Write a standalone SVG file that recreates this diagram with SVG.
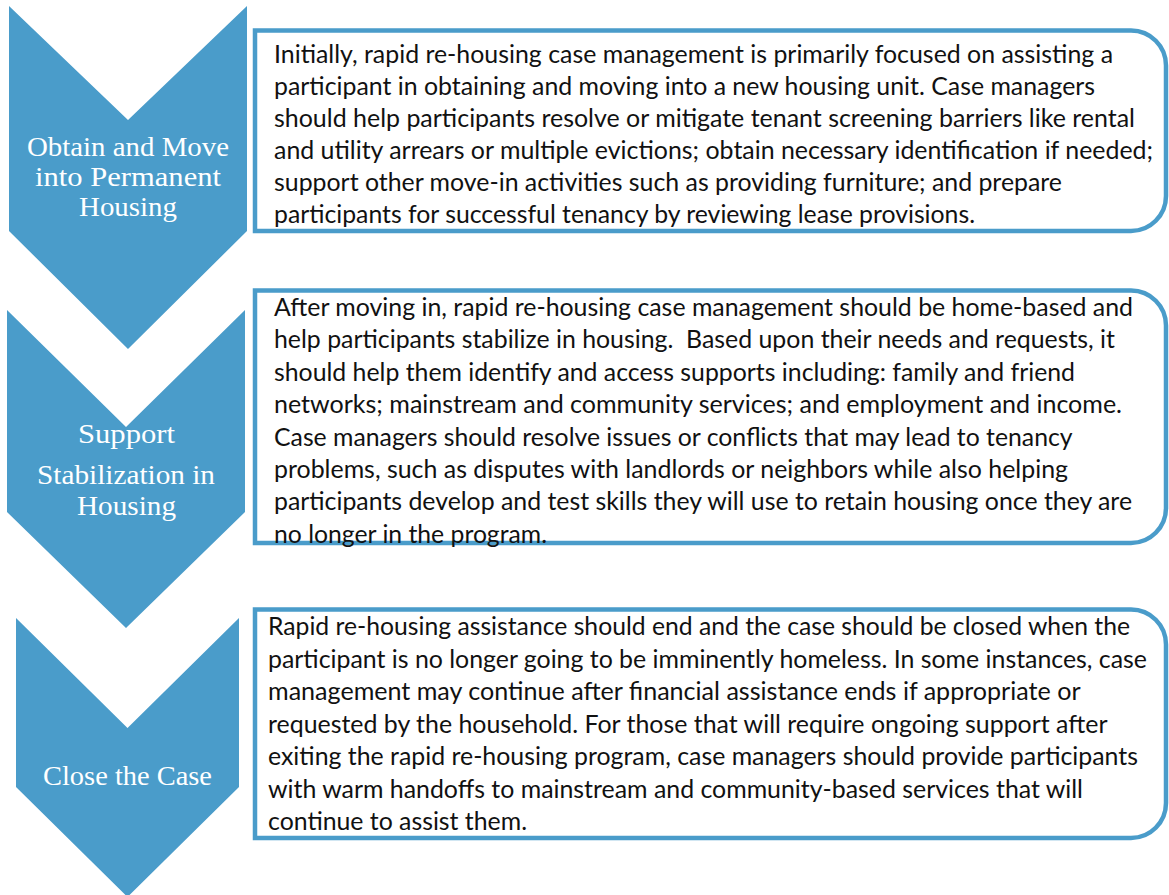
<svg xmlns="http://www.w3.org/2000/svg" width="1169" height="895" viewBox="0 0 1169 895">
<style>
.chev{fill:#4a9cca;}
.box{fill:#fff;stroke:#4a9cca;stroke-width:4.5;}
.lbl{font-family:"Liberation Serif","DejaVu Serif",serif;font-size:28px;fill:#fff;text-anchor:middle;}
.body{font-family:Lato,"Open Sans",sans-serif;font-size:25.5px;fill:#111;}
</style>
<rect width="1169" height="895" fill="#fff"/>
<g id="step1">
<polygon class="chev" points="9,6 128,120 247,6 247,231 128,349 9,231"/>
<text class="lbl"><tspan x="128" y="156" textLength="202" lengthAdjust="spacingAndGlyphs">Obtain and Move</tspan><tspan x="128" y="186" textLength="186" lengthAdjust="spacingAndGlyphs">into Permanent</tspan><tspan x="128" y="216" textLength="98" lengthAdjust="spacingAndGlyphs">Housing</tspan></text>
</g>
<g id="step2">
<polygon class="chev" points="7,310 126,427 245,310 245,512 126,628 7,512"/>
<text class="lbl"><tspan x="126.5" y="443" textLength="97" lengthAdjust="spacingAndGlyphs">Support</tspan><tspan x="126" y="484" textLength="178" lengthAdjust="spacingAndGlyphs">Stabilization in</tspan><tspan x="126.5" y="515" textLength="99" lengthAdjust="spacingAndGlyphs">Housing</tspan></text>
</g>
<g id="step3">
<polygon class="chev" points="16,618 127.5,728 239,618 239,787 127.5,897 16,787"/>
<text class="lbl"><tspan x="127.5" y="785" textLength="169" lengthAdjust="spacingAndGlyphs">Close the Case</tspan></text>
</g>
<g id="desc1">
<path class="box" d="M255,30.5 H1131 A35,35 0 0 1 1166,65.5 V196 A35,35 0 0 1 1131,231 H255 Z"/>
<text class="body">
<tspan x="274" y="63" textLength="839" lengthAdjust="spacingAndGlyphs">Initially, rapid re-housing case management is primarily focused on assisting a</tspan>
<tspan x="274" y="95" textLength="821" lengthAdjust="spacingAndGlyphs">participant in obtaining and moving into a new housing unit. Case managers</tspan>
<tspan x="274" y="127" textLength="861" lengthAdjust="spacingAndGlyphs">should help participants resolve or mitigate tenant screening barriers like rental</tspan>
<tspan x="274" y="159" textLength="879" lengthAdjust="spacingAndGlyphs">and utility arrears or multiple evictions; obtain necessary identification if needed;</tspan>
<tspan x="274" y="191" textLength="788" lengthAdjust="spacingAndGlyphs">support other move-in activities such as providing furniture; and prepare</tspan>
<tspan x="274" y="223" textLength="701" lengthAdjust="spacingAndGlyphs">participants for successful tenancy by reviewing lease provisions.</tspan>
</text>
</g>
<g id="desc2">
<path class="box" d="M255,290.5 H1131 A35,35 0 0 1 1166,325.5 V508 A35,35 0 0 1 1131,543 H255 Z"/>
<text class="body">
<tspan x="274" y="316" textLength="859" lengthAdjust="spacingAndGlyphs">After moving in, rapid re-housing case management should be home-based and</tspan>
<tspan x="274" y="348.4" textLength="841" lengthAdjust="spacingAndGlyphs" xml:space="preserve">help participants stabilize in housing.  Based upon their needs and requests, it</tspan>
<tspan x="274" y="380.8" textLength="801" lengthAdjust="spacingAndGlyphs">should help them identify and access supports including: family and friend</tspan>
<tspan x="274" y="413.2" textLength="848" lengthAdjust="spacingAndGlyphs">networks; mainstream and community services; and employment and income.</tspan>
<tspan x="274" y="445.6" textLength="798" lengthAdjust="spacingAndGlyphs">Case managers should resolve issues or conflicts that may lead to tenancy</tspan>
<tspan x="274" y="478" textLength="794" lengthAdjust="spacingAndGlyphs">problems, such as disputes with landlords or neighbors while also helping</tspan>
<tspan x="274" y="510.4" textLength="858" lengthAdjust="spacingAndGlyphs">participants develop and test skills they will use to retain housing once they are</tspan>
<tspan x="274" y="543" textLength="273" lengthAdjust="spacingAndGlyphs">no longer in the program.</tspan>
</text>
</g>
<g id="desc3">
<path class="box" d="M255,609.5 H1131 A35,35 0 0 1 1166,644.5 V803 A35,35 0 0 1 1131,838 H255 Z"/>
<text class="body">
<tspan x="268" y="635" textLength="862" lengthAdjust="spacingAndGlyphs">Rapid re-housing assistance should end and the case should be closed when the</tspan>
<tspan x="268" y="667.5" textLength="879" lengthAdjust="spacingAndGlyphs">participant is no longer going to be imminently homeless. In some instances, case</tspan>
<tspan x="268" y="700" textLength="812" lengthAdjust="spacingAndGlyphs">management may continue after financial assistance ends if appropriate or</tspan>
<tspan x="268" y="732.5" textLength="839" lengthAdjust="spacingAndGlyphs">requested by the household. For those that will require ongoing support after</tspan>
<tspan x="268" y="765" textLength="870" lengthAdjust="spacingAndGlyphs">exiting the rapid re-housing program, case managers should provide participants</tspan>
<tspan x="268" y="797.5" textLength="815" lengthAdjust="spacingAndGlyphs">with warm handoffs to mainstream and community-based services that will</tspan>
<tspan x="268" y="830" textLength="259" lengthAdjust="spacingAndGlyphs">continue to assist them.</tspan>
</text>
</g>
<g id="connectors"></g>
</svg>
